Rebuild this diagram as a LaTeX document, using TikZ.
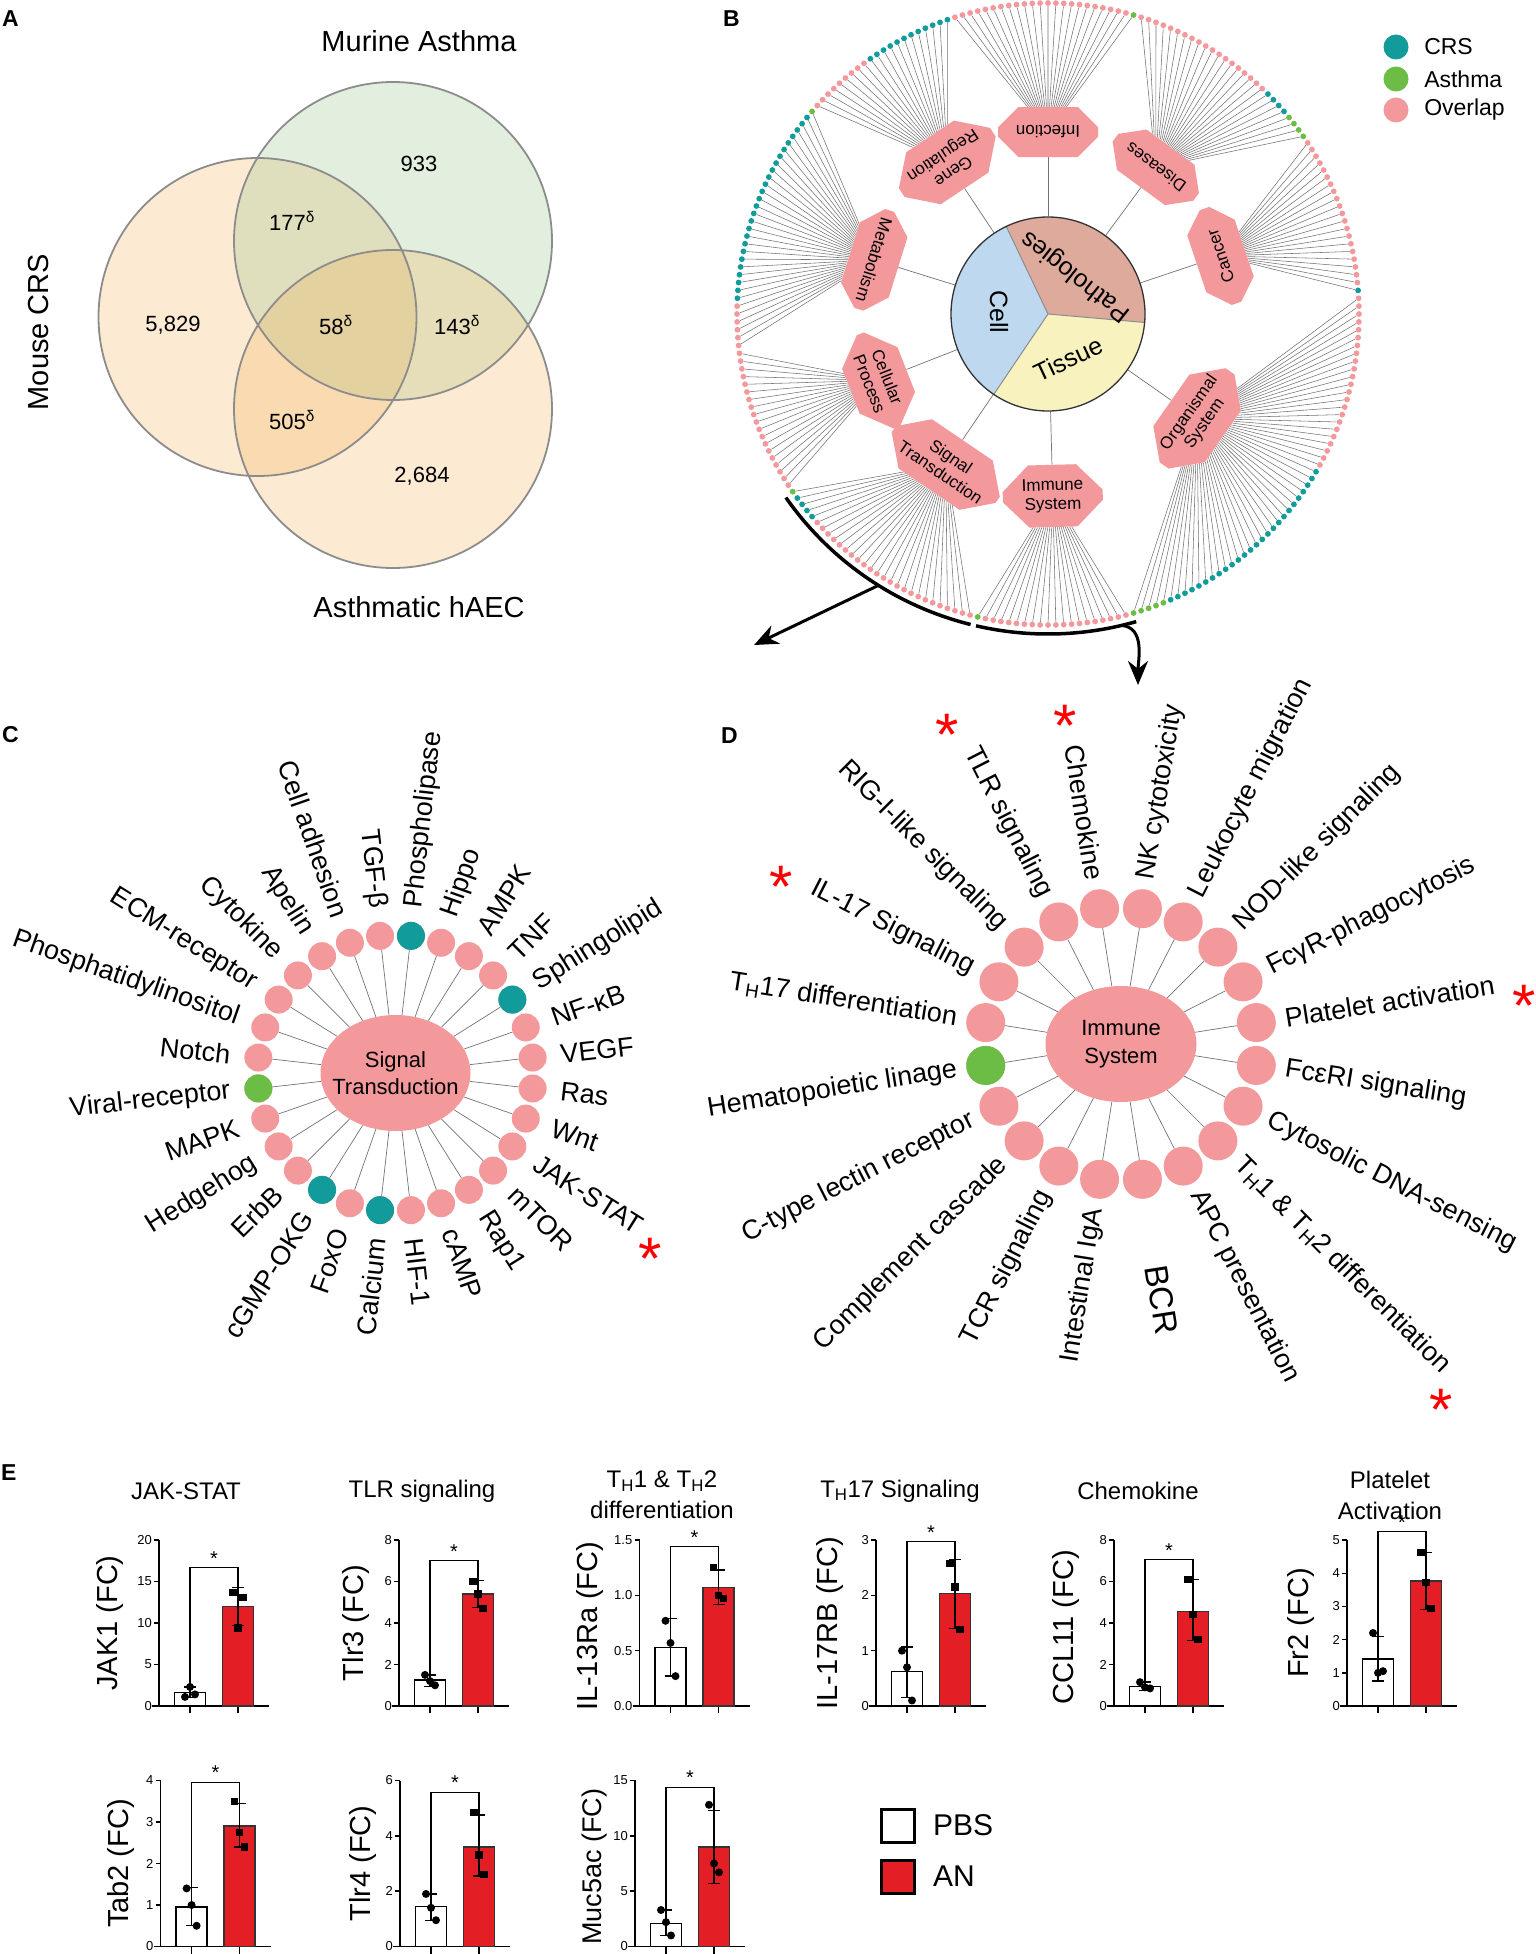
\documentclass[tikz,border=0pt]{standalone}
\usepackage{fontspec}
\setmainfont{Liberation Sans}
\usetikzlibrary{shapes.misc,shapes.geometric,arrows.meta,calc,positioning}

\definecolor{crs}{HTML}{129B9B}
\definecolor{asth}{HTML}{6CBD45}
\definecolor{ovl}{HTML}{F3999C}
\definecolor{patho}{HTML}{DEAA9B}
\definecolor{cellblue}{HTML}{BED8F0}
\definecolor{tissue}{HTML}{F8F2BE}
\definecolor{anred}{HTML}{E31E25}
\definecolor{vorange}{HTML}{F5A33A}
\definecolor{vgreen}{HTML}{8FC07C}

\newcommand\fs[2]{\fontsize{#1}{#2}\selectfont}

\pgfdeclarelayer{back}
\pgfdeclarelayer{bg}
\pgfsetlayers{back,bg,main}

\tikzset{
  panel/.style={anchor=north west, inner sep=0pt, font=\fs{23}{23}\bfseries},
  vring/.style={draw=black!45, line width=1.8pt},
  vlab/.style={font=\fs{29}{29}},
  vnum/.style={font=\fs{22}{22}},
  ringdot/.style={circle, inner sep=0pt, minimum size=5.8pt},
  fan/.style={draw=black!55, line width=0.55pt},
  spoke/.style={draw=black!55, line width=0.7pt},
  cat/.style={chamfered rectangle, chamfered rectangle xsep=13pt, chamfered rectangle ysep=13pt,
    fill=ovl, minimum width=100pt, minimum height=50pt, inner sep=1pt, align=center, font=\fs{17}{19}},
  pielab/.style={font=\fs{25}{25}},
  legdot/.style={circle, inner sep=0pt, minimum size=25pt},
  legtxt/.style={anchor=west, font=\fs{23}{23}},
  brk/.style={line width=3.5pt},
  bigarrow/.style={line width=3pt, -{Stealth[length=24pt, width=20pt]}},
  hub/.style={ellipse, fill=ovl, inner sep=0pt},
  hubtxt/.style={align=center, inner sep=0pt},
  leaf/.style={circle, inner sep=0pt},
  rlab/.style={anchor=west, inner sep=0pt, font=\fs{27}{27}},
  llab/.style={anchor=east, inner sep=0pt, font=\fs{27}{27}},
  redstar/.style={text=red, font=\fs{60}{60}, inner sep=0pt},
  ax/.style={line width=1.4pt},
  ticklab/.style={anchor=east, inner sep=1pt, font=\fs{13}{13}},
  pbsbar/.style={draw, line width=1.4pt, fill=white},
  anbar/.style={draw=black!80, line width=1.4pt, fill=anred},
  err/.style={line width=1.4pt},
  ptc/.style={circle, fill, inner sep=0pt, minimum size=8pt},
  pts/.style={rectangle, fill, inner sep=0pt, minimum size=7.5pt},
  sig/.style={line width=1.2pt},
  sigstar/.style={anchor=south, inner sep=2pt, font=\fs{20}{20}},
  ylab/.style={rotate=90, font=\fs{29}{29}},
  ttl/.style={align=center, font=\fs{24}{31}},
  legbox/.style={draw, line width=3pt, minimum size=33pt, inner sep=0pt},
}

\newcommand\dotrun[3]{%
  \foreach \nd in {#1,...,#2}
    \node[ringdot, fill=#3] (d\nd) at ({\nd*1.451613}:311) {};}
\newcommand\fan[3]{%
  \begin{pgfonlayer}{bg}
  \foreach \nd in {#2,...,#3} \draw[fan] (#1) -- (d\nd);
  \end{pgfonlayer}}

\newcommand\fcaxes[2]{%
  \draw[ax] (-7,0) -- (110,0) (0,0) -- (0,#1);
  \foreach \v/\l in {#2} {\draw[ax] (0,\v) -- ++(-5pt,0); \node[ticklab] at (-6,\v) {\l};}
  \draw[ax] (31,0) -- ++(0,-7pt) (79,0) -- ++(0,-7pt);}
\newcommand\fcbars[6]{%
  \draw[pbsbar] (15.5,0) rectangle (46.5,#1);
  \draw[anbar] (63.5,0) rectangle (94.5,#4);
  \draw[err] (31,#2) -- (31,#3) (25,#2) -- (37,#2) (25,#3) -- (37,#3);
  \draw[err] (79,#5) -- (79,#6) (73,#5) -- (85,#5) (73,#6) -- (85,#6);}
\newcommand\fcpts[7]{%
  \node[ptc] at (31,#2) {}; \node[ptc] at (26,#3) {}; \node[ptc] at (36,#4) {};
  \node[#1] at (79,#5) {}; \node[#1] at (74,#6) {}; \node[#1] at (84,#7) {};}
\newcommand\fcsig[3]{%
  \draw[sig] (31,#1) -- (31,#3) -- (79,#3) -- (79,#2);
  \node[sigstar] at (55,#3) {*};}

\begin{document}
\begin{tikzpicture}[x=1pt, y=-1pt]
\begin{pgfonlayer}{back}
  \fill[white] (0,0) rectangle (1536,1954);
\end{pgfonlayer}
\useasboundingbox (0,0) rectangle (1536,1954);

% A
\node[panel] (lA) at (2,10) {A};
\begin{pgfonlayer}{bg}
  \fill[vorange, fill opacity=0.22] (257.5,317) circle (159);
  \fill[vgreen, fill opacity=0.25] (393,241) circle (159);
  \fill[vorange, fill opacity=0.22] (393,409) circle (159);
\end{pgfonlayer}
\draw[vring] (257.5,317) circle (159) (393,241) circle (159) (393,409) circle (159);
\node[vlab] (murine) at (419,41) {Murine Asthma};
\node[vlab, rotate=90] (mouse) at (39,332) {Mouse CRS};
\node[vlab] (haec) at (419,607) {Asthmatic hAEC};
\node[vnum] (n1) at (419,164) {933};
\node[vnum] (n2) at (292,221) {177\textsuperscript{δ}};
\node[vnum] (n3) at (173,325) {5,829};
\node[vnum] (n4) at (336,325) {58\textsuperscript{δ}};
\node[vnum] (n5) at (457,325) {143\textsuperscript{δ}};
\node[vnum] (n6) at (292,420) {505\textsuperscript{δ}};
\node[vnum] (n7) at (422,476) {2,684};

% B
\node[panel] (lB) at (723,10) {B};
\begin{scope}[shift={(1048,314)}, y=1pt]
  \fill[patho] (0,0) -- (-5:97) arc[start angle=-5, end angle=115.5, radius=97pt] -- cycle;
  \fill[cellblue] (0,0) -- (115.5:97) arc[start angle=115.5, end angle=236, radius=97pt] -- cycle;
  \fill[tissue] (0,0) -- (236:97) arc[start angle=236, end angle=355, radius=97pt] -- cycle;
  \draw[black!45, line width=1pt] (-5:97) -- (0,0) -- (115.5:97) (0,0) -- (236:97);
  \node[circle, draw=black!80, line width=1.3pt, minimum size=194pt, inner sep=0pt] (pie) at (0,0) {};
  \node[pielab, rotate=142] (tpat) at (28,38) {Pathologies};
  \node[pielab, rotate=-90] (tcell) at (-49,2) {Cell};
  \node[pielab, rotate=25] (ttis) at (20,-45) {Tissue};

  \foreach \n/\ang/\lab in {inf/90/Infection, gene/123.6/{Gene\\Regulation}, meta/162.7/Metabolism,
      cellp/201.4/{Cellular\\Process}, sigt/235.8/{Signal\\Transduction}, immb/271.5/{Immune\\System},
      orgs/325/{Organismal\\System}, canc/18.6/Cancer, dise/53.7/Diseases}
    \node[cat, rotate=\ang+90] (\n) at (\ang:182) {\lab};
  \begin{pgfonlayer}{bg}
    \foreach \n in {inf,gene,meta,cellp,sigt,immb,orgs,canc,dise}
      \draw[spoke] (pie) -- (\n);
  \end{pgfonlayer}

  \dotrun{0}{2}{ovl}
  \dotrun{3}{3}{crs}
  \dotrun{4}{23}{ovl}
  \dotrun{24}{27}{asth}
  \dotrun{28}{31}{crs}
  \dotrun{32}{50}{ovl}
  \dotrun{51}{51}{asth}
  \dotrun{52}{74}{ovl}
  \dotrun{75}{86}{crs}
  \dotrun{87}{95}{ovl}
  \dotrun{96}{96}{asth}
  \dotrun{97}{122}{crs}
  \dotrun{123}{147}{ovl}
  \dotrun{148}{148}{asth}
  \dotrun{149}{152}{crs}
  \dotrun{153}{176}{ovl}
  \dotrun{177}{177}{asth}
  \dotrun{178}{196}{ovl}
  \dotrun{197}{201}{asth}
  \dotrun{202}{227}{crs}
  \dotrun{228}{247}{ovl}

  \fan{inf}{51}{74}
  \fan{gene}{75}{95}
  \fan{meta}{96}{128}
  \fan{cellp}{129}{147}
  \fan{sigt}{148}{176}
  \fan{immb}{177}{196}
  \fan{orgs}{197}{247}
  \fan{orgs}{0}{2}
  \fan{canc}{3}{23}
  \fan{dise}{24}{50}

  \draw[brk] (215:320) arc[start angle=215, end angle=256, radius=320pt];
  \draw[brk] (257:320) arc[start angle=257, end angle=286, radius=320pt];
  \coordinate (a1s) at (238:320);
  \coordinate (a1e) at (-294,-331);
  \coordinate (a2s) at (283.3:320);
  \coordinate (a2e) at (90,-371);
  \draw[bigarrow] (a1s) -- (a1e);
  \draw[bigarrow] (a2s) to[out=-5, in=90] (a2e);
\end{scope}
\node[legdot, fill=crs] (kcrs) at (1396,47) {};
\node[legdot, fill=asth] (kasth) at (1396,79) {};
\node[legdot, fill=ovl] (kovl) at (1396,110) {};
\node[legtxt, right=12pt of kcrs] {CRS};
\node[legtxt, right=12pt of kasth] {Asthma};
\node[legtxt, right=12pt of kovl] {Overlap};

% C
\node[panel] (lC) at (2,726) {C};
\begin{scope}[shift={(395.5,1073)}, y=1pt]
  \node[hub, minimum width=150pt, minimum height=116pt] (sigc) at (0,0) {};
  \node[hubtxt, font=\fs{22}{27}] (sigct) at (sigc) {Signal\\Transduction};
  \foreach \nd in {0,...,27}
    \node[leaf, fill=ovl, minimum size=28pt] (c\nd) at ({83.5714+\nd*12.8571}:138) {};
  \foreach \nd/\col in {0/crs, 8/asth, 12/crs, 14/crs, 24/crs}
    \fill[\col] (c\nd) circle (14pt);
  \begin{pgfonlayer}{bg}
    \foreach \nd in {0,...,27} \draw[spoke] (sigc) -- (c\nd);
  \end{pgfonlayer}
  \foreach \ang/\lab in {83.571/Phospholipase, 70.714/Hippo, 57.857/AMPK, 45/TNF, 32.143/Sphingolipid,
      19.286/NF-κB, 6.429/VEGF, -6.429/Ras, -19.286/Wnt, -32.143/JAK-STAT, -45/mTOR, -57.857/Rap1,
      -70.714/cAMP, -83.571/HIF-1}
    \node[rlab, rotate=\ang] at (\ang:166) {\lab};
  \foreach \ang/\lab in {96.429/TGF-β, 109.286/Cell adhesion, 122.143/Apelin, 135/Cytokine,
      147.857/ECM-receptor, 160.714/Phosphatidylinositol, 173.571/Notch, 186.429/Viral-receptor,
      199.286/MAPK, 212.143/Hedgehog, 225/ErbB, 237.857/cGMP-OKG, 250.714/FoxO, 263.571/Calcium}
    \node[llab, rotate=\ang+180] at (\ang:166) {\lab};
\end{scope}
\node[redstar] (sC) at (650,1259) {*};

% D
\node[panel] (lD) at (721,727) {D};
\begin{scope}[shift={(1121,1044)}, y=1pt]
  \node[hub, minimum width=151pt, minimum height=116pt] (imms) at (0,0) {};
  \node[hubtxt, font=\fs{22}{28}] (immst) at (imms) {Immune\\System};
  \foreach \nd in {0,...,19}
    \node[leaf, fill=ovl, minimum size=39pt] (e\nd) at ({81-\nd*18}:137) {};
  \fill[asth] (e14) circle (19.5pt);
  \begin{pgfonlayer}{bg}
    \foreach \nd in {0,...,19} \draw[spoke] (imms) -- (e\nd);
  \end{pgfonlayer}
  \foreach \ang/\lab in {81/NK cytotoxicity, 63/Leukocyte migration, 45/NOD-like signaling,
      27/FcγR-phagocytosis, 9/Platelet activation, -9/FcεRI signaling, -27/Cytosolic DNA-sensing,
      -45/{T\textsubscript{H}1 \& T\textsubscript{H}2 differentiation}, -63/APC presentation}
    \node[rlab, rotate=\ang] at (\ang:166) {\lab};
  \node[rlab, font=\fs{33}{33}, rotate=-81] (bcr) at (-81:224) {BCR};
  \foreach \ang/\lab in {99/Chemokine, 117/TLR signaling, 135/RIG-I-like signaling, 153/IL-17 Signaling,
      171/{T\textsubscript{H}17 differentiation}, 189/Hematopoietic linage, 207/C-type lectin receptor,
      225/Complement cascade, 243/TCR signaling, 261/Intestinal IgA}
    \node[llab, rotate=\ang+180] at (\ang:166) {\lab};
\end{scope}
\node[redstar] (sD1) at (947,735) {*};
\node[redstar] (sD2) at (1065,726) {*};
\node[redstar] (sD3) at (781,887) {*};
\node[redstar] (sD4) at (1524,1006) {*};
\node[redstar] (sD5) at (1441,1410) {*};

% E
\node[panel] (lE) at (1,1464) {E};
\node[ttl] (t1) at (186,1491) {JAK-STAT};
\node[ttl] (t2) at (422,1491) {TLR signaling};
\node[ttl] (t3) at (662,1495) {T\textsubscript{H}1 \& T\textsubscript{H}2\\differentiation};
\node[ttl] (t4) at (900,1491) {T\textsubscript{H}17 Signaling};
\node[ttl] (t5) at (1138,1491) {Chemokine};
\node[ttl] (t6) at (1390,1495) {Platelet\\Activation};

\begin{scope}[shift={(159,1706)}, y=8.3pt]
  \fcaxes{20}{0/0,5/5,10/10,15/15,20/20}
  \fcbars{1.6}{1.0}{2.3}{12}{9.7}{14.3}
  \fcpts{pts}{2.3}{1.1}{1.4}{9.4}{13.7}{13.1}
  \fcsig{2.3}{14.3}{16.7}
  \node[ylab] (y1) at (-49,10) {JAK1 (FC)};
\end{scope}
\begin{scope}[shift={(399,1706)}, y=20.75pt]
  \fcaxes{8}{0/0,2/2,4/4,6/6,8/8}
  \fcbars{1.25}{0.95}{1.5}{5.4}{4.75}{6.05}
  \fcpts{pts}{1.2}{1.5}{1.0}{5.4}{6.0}{4.7}
  \fcsig{1.5}{6.05}{7.0}
  \node[ylab] (y2) at (-43,4) {Tlr3 (FC)};
\end{scope}
\begin{scope}[shift={(639.5,1706)}, y=110.67pt]
  \fcaxes{1.5}{0/0.0,0.5/0.5,1/1.0,1.5/1.5}
  \fcbars{0.53}{0.27}{0.79}{1.07}{0.92}{1.23}
  \fcpts{pts}{0.57}{0.77}{0.27}{1.0}{1.25}{0.97}
  \fcsig{0.79}{1.23}{1.44}
  \node[ylab] (y3) at (-50,0.72) {IL-13Ra (FC)};
\end{scope}
\begin{scope}[shift={(876,1706)}, y=55.33pt]
  \fcaxes{3}{0/0,1/1,2/2,3/3}
  \fcbars{0.62}{0.15}{1.07}{2.03}{1.4}{2.65}
  \fcpts{pts}{0.7}{1.0}{0.1}{2.15}{2.58}{1.38}
  \fcsig{1.07}{2.65}{2.97}
  \node[ylab] (y4) at (-46,1.5) {IL-17RB (FC)};
\end{scope}
\begin{scope}[shift={(1114,1706)}, y=20.75pt]
  \fcaxes{8}{0/0,2/2,4/4,6/6,8/8}
  \fcbars{0.95}{0.75}{1.15}{4.55}{3.15}{6.1}
  \fcpts{pts}{0.9}{1.15}{0.85}{4.4}{6.1}{3.2}
  \fcsig{1.15}{6.1}{7.07}
  \node[ylab] (y5) at (-48,3.8) {CCL11 (FC)};
\end{scope}
\begin{scope}[shift={(1347,1706)}, y=33.2pt]
  \fcaxes{5}{0/0,1/1,2/2,3/3,4/4,5/5}
  \fcbars{1.42}{0.75}{2.1}{3.77}{2.9}{4.62}
  \fcpts{pts}{1.0}{2.2}{1.05}{3.72}{4.62}{2.93}
  \fcsig{2.1}{4.62}{5.25}
  \node[ylab] (y6) at (-46,2.5) {Fr2 (FC)};
\end{scope}

\begin{scope}[shift={(160.6,1946.5)}, y=41.5pt]
  \fcaxes{4}{0/0,1/1,2/2,3/3,4/4}
  \fcbars{0.95}{0.5}{1.42}{2.9}{2.4}{3.45}
  \fcpts{pts}{1.0}{1.4}{0.5}{2.75}{3.5}{2.4}
  \fcsig{1.42}{3.45}{3.96}
  \node[ylab] (y7) at (-40,2) {Tab2 (FC)};
\end{scope}
\begin{scope}[shift={(400,1946.5)}, y=27.67pt]
  \fcaxes{6}{0/0,2/2,4/4,6/6}
  \fcbars{1.45}{0.95}{1.9}{3.6}{2.55}{4.75}
  \fcpts{pts}{1.4}{1.9}{0.95}{3.3}{4.85}{2.6}
  \fcsig{1.9}{4.75}{5.58}
  \node[ylab] (y8) at (-37,3) {Tlr4 (FC)};
\end{scope}
\begin{scope}[shift={(635,1946.5)}, y=11.07pt]
  \fcaxes{15}{0/0,5/5,10/10,15/15}
  \fcbars{2.1}{1.0}{3.3}{9.0}{5.7}{12.3}
  \fcpts{ptc}{2.2}{3.3}{1.0}{7.5}{12.8}{6.7}
  \fcsig{3.3}{12.3}{14.4}
  \node[ylab, font=\fs{27}{27}] (y9) at (-40,7.2) {Muc5ac (FC)};
\end{scope}

\node[legbox, fill=white] (kpbs) at (897.5,1825.5) {};
\node[legbox, fill=anred] (kan) at (897.5,1876.5) {};
\node[anchor=west, font=\fs{30}{30}, right=14pt of kpbs] {PBS};
\node[anchor=west, font=\fs{30}{30}, right=14pt of kan] {AN};
\end{tikzpicture}
\end{document}
